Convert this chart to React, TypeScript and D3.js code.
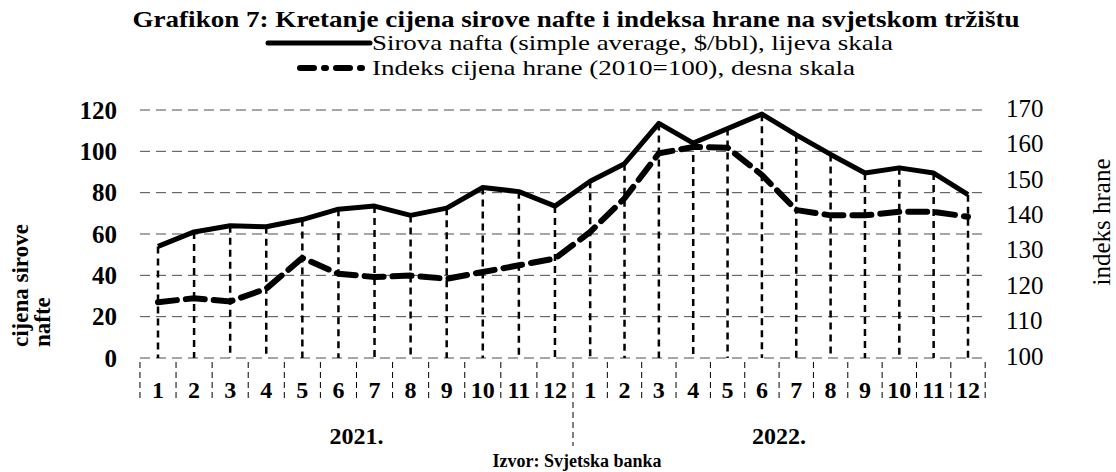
import React from "react";
import * as d3 from "d3";

const months = ["1","2","3","4","5","6","7","8","9","10","11","12","1","2","3","4","5","6","7","8","9","10","11","12"];
const years = ["2021.", "2022."];
const oilPrice = [54, 61, 64, 63.5, 67, 72, 73.5, 69, 72.5, 82.5, 80.5, 73.5, 85.5, 94, 113.5, 104, 111, 118, 108, 98.5, 89.5, 92, 89.5, 79];
const foodIndex = [115.2, 116.3, 115.4, 119, 127.7, 123.2, 122.3, 122.7, 121.8, 123.7, 125.6, 127.5, 135, 144.5, 157.2, 159, 158.8, 151.1, 141.2, 139.7, 139.7, 140.7, 140.7, 139.3];
const leftTicks = [0, 20, 40, 60, 80, 100, 120];
const rightTicks = [100, 110, 120, 130, 140, 150, 160, 170];

const title = "Grafikon 7: Kretanje cijena sirove nafte i indeksa hrane na svjetskom tržištu";
const legendOil = "Sirova nafta (simple average, $/bbl), lijeva skala";
const legendFood = "Indeks cijena hrane (2010=100), desna skala";
const leftTitle = ["cijena sirove", "nafte"];
const rightTitle = "indeks hrane";
const source = "Izvor: Svjetska banka";

export default function App() {
  const W = 1116, H = 472;
  const x = d3.scaleLinear().domain([0, 11.5, 23]).range([158, 573, 968]);
  const yL = d3.scaleLinear().domain([0, 120]).range([358, 110]);
  const yR = d3.scaleLinear().domain([100, 170]).range([356, 108]);
  const plotX0 = 140, plotX1 = 985;

  const oilLine = d3.line<number>().x((_, i) => x(i)).y(d => yL(d));
  const foodLine = d3.line<number>().x((_, i) => x(i)).y(d => yR(d));

  const serif = "Liberation Serif, Times New Roman, Times, serif";
  const boundaries = d3.range(0, 25).map(i => x(i - 0.5));

  return (
    <svg width={W} height={H} style={{ position: "absolute", left: 0, top: 0, background: "#fff", fontFamily: serif }}>
      <rect x={0} y={0} width={W} height={H} fill="#fff" />
      {/* Title */}
      <text x={576} y={27} textAnchor="middle" fontSize={23} fontWeight="bold" textLength={887} lengthAdjust="spacingAndGlyphs">{title}</text>
      {/* Legend */}
      <line x1={268} x2={370} y1={43} y2={43} stroke="#000" strokeWidth={5} strokeLinecap="round" />
      <text x={372} y={50} fontSize={21} textLength={521} lengthAdjust="spacingAndGlyphs">{legendOil}</text>
      <line x1={300} x2={368} y1={68} y2={68} stroke="#000" strokeWidth={6} strokeDasharray="14,10,2,10" strokeLinecap="round" />
      <text x={372} y={75} fontSize={21} textLength={483} lengthAdjust="spacingAndGlyphs">{legendFood}</text>

      {/* Gridlines */}
      {leftTicks.map(t => (
        <line key={"g" + t} x1={plotX0} x2={plotX1} y1={yL(t)} y2={yL(t)} stroke="#000" strokeWidth={1} strokeDasharray="10,6" opacity={0.7} />
      ))}

      {/* Drop lines */}
      {oilPrice.map((v, i) => (
        <line key={"d" + i} x1={x(i)} x2={x(i)} y1={yL(v)} y2={yL(0)} stroke="#000" strokeWidth={2.5} strokeDasharray="7,5" />
      ))}

      {/* Series */}
      <path d={oilLine(oilPrice) || ""} fill="none" stroke="#000" strokeWidth={5} strokeLinejoin="round" />
      <path d={foodLine(foodIndex) || ""} fill="none" stroke="#000" strokeWidth={6} strokeDasharray="19,9" strokeLinecap="round" />

      {/* Left axis labels */}
      {leftTicks.map(t => (
        <text key={"l" + t} x={117} y={yL(t)} dy="0.35em" textAnchor="end" fontSize={25} fontWeight="bold">{t}</text>
      ))}
      {/* Right axis labels */}
      {rightTicks.map(t => (
        <text key={"r" + t} x={1006} y={yR(t)} dy="0.35em" textAnchor="start" fontSize={25}>{t}</text>
      ))}

      {/* Axis titles */}
      <text transform="translate(28,347) rotate(-90)" fontSize={23} fontWeight="bold">{leftTitle[0]}</text>
      <text transform="translate(50,347) rotate(-90)" fontSize={23} fontWeight="bold">{leftTitle[1]}</text>
      <text transform="translate(1110,222) rotate(-90)" textAnchor="middle" fontSize={25}>{rightTitle}</text>

      {/* Month separators */}
      {boundaries.map((bx, i) => (
        <line key={"s" + i} x1={bx} x2={bx} y1={362} y2={i === 12 ? 446 : 400} stroke="#000" strokeWidth={1} strokeDasharray="6,4" />
      ))}
      {/* Month labels */}
      {months.map((m, i) => (
        <text key={"m" + i} x={x(i)} y={398} textAnchor="middle" fontSize={24} fontWeight="bold">{m}</text>
      ))}
      {/* Year labels */}
      {years.map((yr, k) => (
        <text key={"y" + k} x={(x(k * 12) + x(k * 12 + 11)) / 2} y={444} textAnchor="middle" fontSize={24} fontWeight="bold">{yr}</text>
      ))}
      {/* Source */}
      <text x={577} y={467} textAnchor="middle" fontSize={18} fontWeight="bold">{source}</text>
    </svg>
  );
}
